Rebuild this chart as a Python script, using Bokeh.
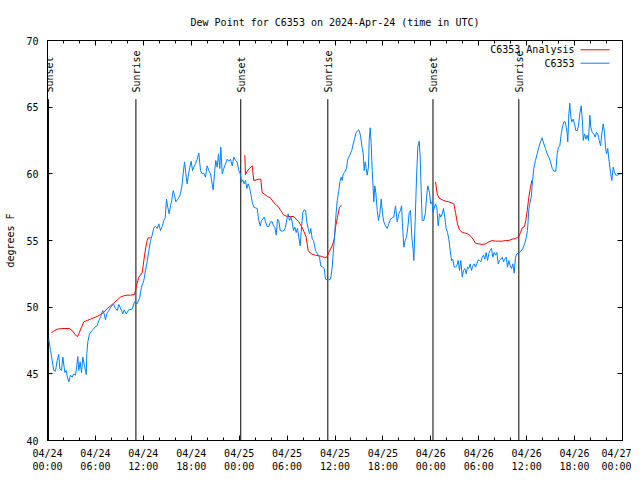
import math
from bokeh.plotting import figure
from bokeh.models import LinearAxis, FixedTicker, Range1d, Label, Arrow
from bokeh.core.properties import value
from bokeh.embed import file_html
from bokeh.resources import INLINE

FONT = "DejaVu Sans Mono"
TITLE = "Dew Point for C6353 on 2024-Apr-24 (time in UTC)"
Y_LABEL = "degrees F"

# hours since 2024-04-24 00:00 UTC
obs_hours = [
    0.16, 0.38, 0.59, 0.79, 1.00, 1.21, 1.41, 1.54, 1.75, 1.92,
    2.17, 2.34, 2.50, 2.67, 2.88, 3.09, 3.29, 3.51, 3.67, 3.79,
    3.92, 4.09, 4.26, 4.42, 4.67, 4.85, 4.92, 5.05, 5.26, 5.60,
    5.92, 6.22, 6.42, 6.64, 6.92, 7.10, 7.26, 7.43, 7.68, 7.93,
    8.26, 8.51, 8.73, 8.93, 9.27, 9.43, 9.60, 9.86, 10.18, 10.61,
    10.89, 11.23, 11.56, 11.77, 12.06, 12.27, 12.48, 12.69, 12.90, 13.11,
    13.31, 13.52, 13.74, 13.94, 14.15, 14.36, 14.56, 14.74, 14.90, 15.06,
    15.24, 15.40, 15.56, 15.74, 15.90, 16.07, 16.24, 16.44, 16.65, 16.87,
    16.99, 17.16, 17.32, 17.49, 17.66, 17.82, 17.99, 18.16, 18.32, 18.53,
    18.75, 18.95, 19.16, 19.37, 19.57, 19.78, 19.99, 20.20, 20.41, 20.62,
    20.75, 20.91, 21.07, 21.25, 21.41, 21.58, 21.70, 21.88, 22.08, 22.29,
    22.50, 22.70, 22.91, 23.13, 23.33, 23.54, 23.75, 23.95, 24.13, 24.29,
    24.46, 24.63, 24.79, 24.96, 25.13, 25.29, 25.46, 25.63, 25.83, 26.05,
    26.26, 26.46, 26.63, 26.80, 26.96, 27.14, 27.30, 27.51, 27.71, 27.92,
    28.14, 28.30, 28.46, 28.64, 28.80, 28.96, 29.14, 29.39, 29.64, 29.80,
    29.97, 30.14, 30.30, 30.47, 30.64, 30.80, 30.97, 31.14, 31.30, 31.47,
    31.64, 31.81, 31.97, 32.14, 32.31, 32.47, 32.64, 32.81, 32.97, 33.15,
    33.31, 33.56, 33.81, 34.06, 34.22, 34.47, 34.65, 34.81, 35.02, 35.22,
    35.44, 35.52, 35.65, 35.77, 35.94, 36.10, 36.28, 36.48, 36.61, 36.78,
    36.90, 37.03, 37.19, 37.44, 37.60, 37.85, 38.10, 38.28, 38.44, 38.61,
    38.78, 38.98, 39.19, 39.36, 39.53, 39.66, 39.78, 39.91, 40.03, 40.19,
    40.28, 40.41, 40.53, 40.66, 40.78, 40.86, 40.99, 41.11, 41.29, 41.45,
    41.61, 41.79, 41.95, 42.11, 42.32, 42.54, 42.74, 42.95, 43.16, 43.36,
    43.58, 43.79, 43.99, 44.20, 44.33, 44.45, 44.62, 44.79, 44.95, 45.12,
    45.29, 45.45, 45.62, 45.79, 45.87, 46.04, 46.21, 46.37, 46.54, 46.67,
    46.79, 46.92, 47.12, 47.33, 47.46, 47.62, 47.83, 47.99, 48.17, 48.25,
    48.42, 48.58, 48.75, 48.92, 49.09, 49.25, 49.42, 49.59, 49.75, 49.92,
    50.09, 50.25, 50.43, 50.59, 50.75, 50.93, 51.09, 51.25, 51.43, 51.59,
    51.75, 51.93, 52.09, 52.25, 52.43, 52.59, 52.76, 52.93, 53.09, 53.26,
    53.43, 53.59, 53.76, 53.93, 54.09, 54.26, 54.43, 54.60, 54.76, 54.93,
    55.10, 55.26, 55.43, 55.60, 55.76, 55.94, 56.10, 56.26, 56.44, 56.60,
    56.76, 56.94, 57.10, 57.26, 57.44, 57.60, 57.77, 57.94, 58.10, 58.27,
    58.44, 58.60, 58.77, 59.02, 59.27, 59.52, 59.77, 59.94, 60.10, 60.27,
    60.40, 60.57, 60.73, 60.89, 61.10, 61.32, 61.52, 61.73, 61.94, 62.15,
    62.36, 62.57, 62.77, 62.99, 63.20, 63.40, 63.65, 63.82, 63.99, 64.15,
    64.33, 64.49, 64.65, 64.83, 64.95, 65.08, 65.15, 65.28, 65.40, 65.53,
    65.65, 65.83, 65.99, 66.15, 66.33, 66.49, 66.65, 66.83, 66.99, 67.08,
    67.24, 67.41, 67.58, 67.74, 67.91, 68.03, 68.21, 68.41, 68.58, 68.75,
    68.91, 69.09, 69.25, 69.41, 69.58, 69.75, 69.87, 70.00, 70.16, 70.29,
    70.50, 70.66, 70.84, 71.00, 71.16, 71.41, 71.66, 71.90,
]
obs_dewpt = [
    47.6, 46.75, 46.0, 45.25, 45.2, 46.0, 46.45, 45.4, 45.25, 46.25,
    45.1, 45.25, 44.75, 44.4, 44.9, 44.75, 45.0, 44.9, 45.6, 46.3,
    45.25, 45.9, 45.1, 46.25, 45.5, 44.95, 46.5, 47.4, 48.0, 48.25,
    48.5, 48.6, 49.0, 49.25, 49.75, 49.5, 49.05, 49.5, 49.75, 50.0,
    50.25, 49.9, 49.75, 50.2, 49.75, 49.5, 49.8, 49.5, 49.8, 49.85,
    50.4, 50.25, 50.75, 51.5, 52.0, 52.75, 53.4, 54.25, 55.0, 55.4,
    55.95, 56.05, 55.9, 56.25, 55.75, 56.05, 56.5, 56.7, 58.1, 57.5,
    57.0, 57.6, 58.0, 58.75, 58.4, 57.9, 58.05, 58.2, 58.5, 59.25,
    60.0, 60.9, 60.0, 59.25, 60.0, 60.5, 60.95, 60.25, 60.5, 60.75,
    61.1, 61.55, 60.25, 60.0, 60.05, 59.75, 60.6, 60.25, 60.0, 59.25,
    58.8, 60.0, 61.0, 60.5, 61.5, 60.4, 62.0, 60.0, 60.4, 60.75,
    61.1, 60.95, 61.1, 60.6, 61.25, 61.0, 60.9, 60.25, 60.0, 59.4,
    59.55, 59.25, 59.5, 58.9, 59.25, 59.0, 58.5, 57.9, 57.5, 57.45,
    57.4, 56.5, 56.1, 56.5, 56.6, 56.75, 56.4, 56.05, 56.05, 56.4,
    56.4, 56.1, 56.0, 55.4, 56.6, 56.5, 55.75, 55.7, 55.75, 56.0,
    56.6, 57.0, 56.5, 56.75, 56.4, 55.75, 56.0, 55.6, 55.9, 55.25,
    54.6, 56.0, 57.1, 57.3, 57.25, 56.4, 55.9, 55.5, 55.9, 55.1,
    55.0, 54.25, 54.0, 53.75, 53.1, 53.0, 52.9, 52.1, 52.05, 52.05,
    52.1, 52.4, 53.0, 54.0, 55.25, 56.75, 58.0, 58.75, 59.4, 59.75,
    59.5, 60.0, 60.1, 60.4, 61.1, 61.4, 61.75, 62.25, 62.6, 63.05,
    63.2, 63.3, 62.9, 62.1, 61.5, 60.25, 60.9, 60.4, 59.9, 60.5,
    62.5, 63.45, 62.25, 60.25, 58.9, 57.9, 59.1, 58.6, 57.25, 56.5,
    57.0, 58.1, 57.0, 56.4, 56.1, 55.9, 56.25, 56.6, 56.7, 56.75,
    57.6, 56.4, 57.0, 57.25, 57.6, 56.25, 54.5, 55.0, 55.25, 56.0,
    57.1, 57.25, 55.25, 54.25, 53.5, 56.5, 59.75, 62.0, 62.45, 61.25,
    58.75, 56.5, 56.5, 57.1, 58.25, 59.1, 58.6, 57.75, 57.9, 57.1,
    57.4, 57.75, 57.5, 56.1, 57.0, 56.75, 57.0, 57.4, 56.75, 55.9,
    55.6, 55.1, 54.25, 53.5, 53.6, 53.0, 53.0, 53.1, 53.5, 52.75,
    53.5, 52.25, 52.75, 52.9, 52.5, 53.0, 52.9, 53.25, 52.75, 53.1,
    53.25, 53.0, 53.25, 53.55, 53.5, 53.4, 53.75, 53.9, 53.6, 54.1,
    53.5, 54.0, 54.25, 54.4, 53.75, 54.1, 53.9, 54.1, 53.25, 53.5,
    53.6, 53.75, 53.4, 53.6, 53.75, 53.0, 53.5, 53.1, 52.9, 53.25,
    52.55, 53.75, 54.0, 54.05, 54.2, 54.4, 54.8, 55.2, 55.75, 57.3,
    57.8, 58.25, 59.4, 60.4, 61.0, 61.5, 62.0, 62.4, 62.7, 62.25,
    61.9, 61.5, 61.25, 60.9, 60.4, 60.2, 60.2, 61.5, 62.0, 62.1,
    63.0, 63.5, 63.9, 63.9, 63.5, 63.0, 62.4, 64.5, 65.3, 64.25,
    63.9, 64.1, 63.75, 63.25, 63.25, 63.6, 64.5, 65.1, 63.9, 62.5,
    63.0, 62.6, 62.9, 62.5, 64.4, 63.5, 63.1, 63.0, 62.75, 63.1,
    63.0, 62.5, 62.1, 63.0, 63.75, 63.1, 62.0, 61.5, 61.9, 61.1,
    60.1, 59.5, 60.5, 60.1, 59.9, 59.9, 60.0, 60.0,
]

# analysis series, three separate runs
ana1_hours = [0.50, 0.79, 1.21, 1.84, 2.75, 3.09, 3.51, 3.76, 3.92, 4.26,
              4.55, 4.97, 5.38, 5.80, 6.22, 6.64, 7.05, 7.48, 7.89, 8.30,
              8.73, 9.14, 9.55, 9.98, 10.39, 10.89, 11.02, 11.14, 11.31, 11.43,
              11.65, 11.86, 11.98, 12.15, 12.31, 12.48, 12.61, 12.90]
ana1_dewpt = [48.1, 48.2, 48.35, 48.4, 48.4, 48.25, 47.9, 47.8, 48.0, 48.5,
              48.9, 49.0, 49.1, 49.2, 49.3, 49.45, 49.6, 49.9, 50.1, 50.3,
              50.55, 50.75, 50.85, 50.9, 50.9, 50.95, 51.25, 51.6, 52.0, 52.25,
              52.4, 52.6, 53.1, 53.9, 54.5, 55.0, 55.2, 55.2]
ana2_hours = [24.71, 24.79, 25.01, 25.29, 25.63, 25.83, 26.13, 26.46, 26.71, 26.88,
              27.21, 27.55, 27.92, 28.21, 28.55, 28.89, 29.21, 29.59, 30.02, 30.43,
              30.84, 31.14, 31.47, 31.81, 32.09, 32.39, 32.64, 32.93, 33.22, 33.56,
              33.97, 34.40, 34.72, 34.97, 35.22, 35.65, 35.90, 36.06, 36.31, 36.56,
              36.73, 36.85]
ana2_dewpt = [61.4, 59.95, 60.2, 60.4, 60.6, 59.5, 59.55, 59.6, 59.6, 58.6,
              58.45, 58.3, 58.2, 57.95, 57.7, 57.55, 57.25, 56.9, 56.8, 56.8,
              56.8, 56.6, 56.4, 56.05, 55.7, 55.25, 54.25, 54.05, 53.95, 53.9,
              53.85, 53.8, 53.7, 53.75, 54.1, 54.6, 55.1, 56.0, 56.75, 57.5,
              57.6, 57.6]
ana3_hours = [48.58, 48.80, 49.00, 49.42, 49.84, 50.25, 50.68, 50.88, 51.09, 51.34,
              51.59, 51.93, 52.34, 52.76, 53.18, 53.59, 54.01, 54.43, 54.85, 55.26,
              55.68, 56.10, 56.51, 56.94, 57.35, 57.77, 58.19, 58.60, 59.02, 59.23,
              59.44, 59.73, 59.89, 60.07, 60.27, 60.48, 60.64]
ana3_dewpt = [59.4, 58.5, 58.2, 58.05, 57.95, 57.9, 57.8, 57.75, 57.1, 56.25,
              55.8, 55.6, 55.55, 55.45, 55.2, 54.8, 54.75, 54.7, 54.75, 54.9,
              55.0, 54.95, 54.95, 54.95, 55.0, 55.0, 55.1, 55.15, 55.3, 55.6,
              55.95, 56.05, 56.5, 57.25, 58.25, 59.0, 59.5]

sunset_hours = [0.12, 24.2, 48.27]
sunrise_hours = [11.07, 35.1, 59.02]

tick_hours = [0, 6, 12, 18, 24, 30, 36, 42, 48, 54, 60, 66, 72]
tick_labels = ["04/24\n00:00", "04/24\n06:00", "04/24\n12:00", "04/24\n18:00",
               "04/25\n00:00", "04/25\n06:00", "04/25\n12:00", "04/25\n18:00",
               "04/26\n00:00", "04/26\n06:00", "04/26\n12:00", "04/26\n18:00",
               "04/27\n00:00"]
y_ticks = [40, 45, 50, 55, 60, 65, 70]

assert len(obs_hours) == len(obs_dewpt)
assert len(ana1_hours) == len(ana1_dewpt)
assert len(ana2_hours) == len(ana2_dewpt)
assert len(ana3_hours) == len(ana3_dewpt)

nan = float("nan")
ana_hours = ana1_hours + [nan] + ana2_hours + [nan] + ana3_hours
ana_dewpt = ana1_dewpt + [nan] + ana2_dewpt + [nan] + ana3_dewpt

RED = "#ff0000"
BLUE = "#0080ff"
FW, FH = 575, 400

p = figure(frame_width=FW, frame_height=FH,
           x_range=Range1d(0, 72), y_range=Range1d(40, 70),
           output_backend="svg", toolbar_location=None,
           min_border_left=47, min_border_right=9,
           min_border_top=40, min_border_bottom=30,
           background_fill_color="white", border_fill_color="white")

p.title.text = TITLE
p.title.align = "center"
p.title.offset = -2
p.title.standoff = 26
p.title.text_font = FONT
p.title.text_font_size = "10px"
p.title.text_font_style = "normal"
p.title.text_color = "black"

p.xgrid.visible = False
p.ygrid.visible = False
p.outline_line_color = "black"
p.outline_line_width = 1

x_ticker = FixedTicker(ticks=tick_hours, minor_ticks=list(range(0, 73, 2)))
y_ticker = FixedTicker(ticks=y_ticks, minor_ticks=[])


def style_axis(ax, show_labels):
    ax.axis_line_color = "black"
    ax.major_tick_line_color = "black"
    ax.minor_tick_line_color = "black"
    ax.major_tick_in = 5
    ax.major_tick_out = 0
    ax.minor_tick_in = 3
    ax.minor_tick_out = 0
    ax.major_label_text_font = FONT
    if show_labels:
        ax.major_label_text_font_size = "10px"
        ax.major_label_text_color = "black"
    else:
        ax.major_label_text_font_size = "1px"
        ax.major_label_text_color = None
        ax.major_label_standoff = 0


xa = p.xaxis[0]
xa.ticker = x_ticker
xa.major_label_overrides = {h: lab for h, lab in zip(tick_hours, tick_labels)}
style_axis(xa, True)
xa.major_label_standoff = 7

ya = p.yaxis[0]
ya.ticker = y_ticker
style_axis(ya, True)
ya.major_label_standoff = 9
ya.axis_label = Y_LABEL
ya.axis_label_text_font = FONT
ya.axis_label_text_font_size = "10px"
ya.axis_label_text_font_style = "normal"
ya.axis_label_text_color = "black"
ya.axis_label_standoff = 7

top_axis = LinearAxis(ticker=x_ticker)
style_axis(top_axis, False)
p.add_layout(top_axis, "above")

right_axis = LinearAxis(ticker=y_ticker)
style_axis(right_axis, False)
p.add_layout(right_axis, "right")

# sunrise / sunset markers
sun_hours = sunset_hours + sunrise_hours
p.segment(x0=sun_hours, y0=[40] * len(sun_hours), x1=sun_hours, y1=[65.6] * len(sun_hours),
          line_color="black", line_width=1)
p.text(x=sunset_hours, y=[66.1] * len(sunset_hours), text=["Sunset"] * len(sunset_hours),
       angle=math.pi / 2, text_align="left", text_baseline="middle", x_offset=1,
       text_font=value(FONT), text_font_size="10px", text_color="black")
p.text(x=sunrise_hours, y=[66.1] * len(sunrise_hours), text=["Sunrise"] * len(sunrise_hours),
       angle=math.pi / 2, text_align="left", text_baseline="middle", x_offset=1,
       text_font=value(FONT), text_font_size="10px", text_color="black")

p.line(ana_hours, ana_dewpt, line_color=RED, line_width=1)
p.line(obs_hours, obs_dewpt, line_color=BLUE, line_width=1)

# key (text left of sample line, like the original)
key = [("C6353 Analysis", RED, 390.7), ("C6353", BLUE, 377.3)]
for name, col, yy in key:
    p.add_layout(Label(x=527, y=yy, x_units="screen", y_units="screen", text=name,
                       text_align="right", text_baseline="middle", text_font=FONT,
                       text_font_size="10px", text_color="black"))
    p.add_layout(Arrow(x_start=533, y_start=yy, x_end=562, y_end=yy,
                       start_units="screen", end_units="screen", end=None, start=None,
                       line_color=col, line_width=1))

open("out.html", "w").write(file_html(p, INLINE))
